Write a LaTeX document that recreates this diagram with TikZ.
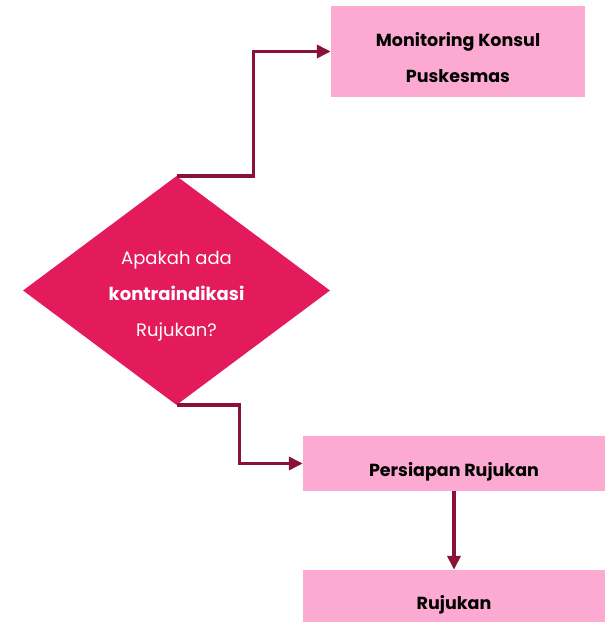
\documentclass[tikz,border=0pt]{standalone}
\usepackage{fontspec}
\setmainfont{Poppins}
\usetikzlibrary{arrows.meta, positioning, shapes.geometric}
\definecolor{boxpink}{HTML}{FCAAD2}
\definecolor{askpink}{HTML}{E31A5B}
\definecolor{linemaroon}{HTML}{8A1139}
% taller first line, pushes the text a bit below the middle
\newcommand{\lowstrut}[1]{\rule{0pt}{#1}}

\begin{document}
\begin{tikzpicture}[x=1pt, y=-1pt,
      box/.style={rectangle, fill=boxpink, align=center, inner sep=0pt, font=\bfseries\fontsize{17.5}{36}\selectfont},
      ask/.style={diamond, aspect=1.34, fill=askpink, text=white, align=center, inner sep=0pt, minimum width=307pt, minimum height=229pt, font=\fontsize{18}{36}\selectfont},
      arr/.style={-{Triangle[length=14pt, width=13pt]}, line width=3.5pt, linemaroon},
    ]
    \useasboundingbox (0,0) rectangle (605,622);
    \node[box, minimum width=254pt, minimum height=91pt] (monitor) at (458,51.5) {\lowstrut{26pt}Monitoring Konsul\\Puskesmas};
    \node[ask] (ask) at (176.5,290.5) {\lowstrut{25pt}Apakah ada\\\textbf{kontraindikasi}\\Rujukan?};
    \node[box, minimum width=302pt, minimum height=55pt] (prep) at (454,463.5) {\lowstrut{30pt}Persiapan Rujukan};
    \node[box, minimum width=302pt, minimum height=52pt] (rujukan) at (454,596) {\lowstrut{32pt}Rujukan};
    % yes/no branches out of the question
    \draw[arr] (ask.north) -- ++(77,0) |- (monitor.west);
    \draw[arr] (ask.south) -- ++(63,0) |- (prep.west);
    \draw[arr] (prep.south) -- (rujukan.north);
  \end{tikzpicture}
\end{document}
